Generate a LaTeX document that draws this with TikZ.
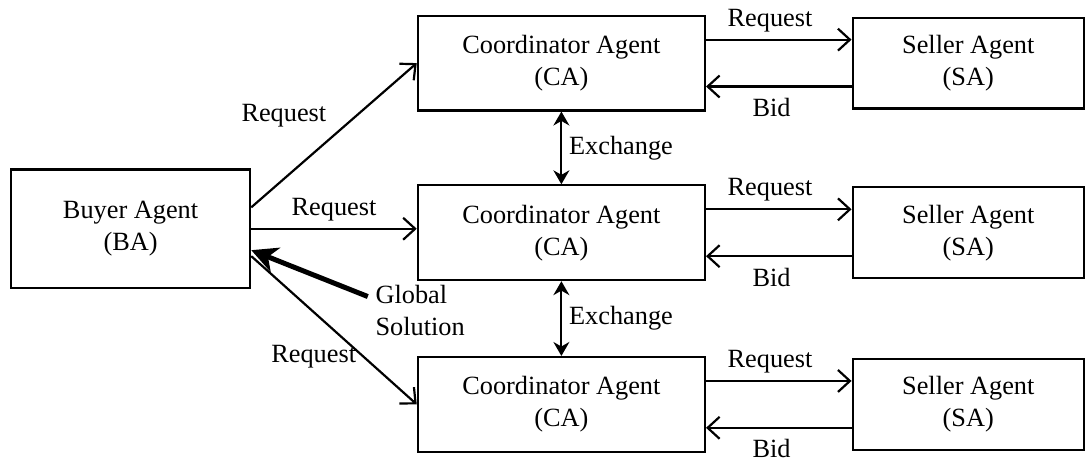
\documentclass[tikz,border=0pt]{standalone}
\usepackage{fontspec}
\setmainfont{Liberation Serif}
\usetikzlibrary{arrows.meta,positioning}

\begin{document}
\begin{tikzpicture}[>={Straight Barb[length=6pt,width=11pt]},line width=1.1pt,
    font=\fontsize{13.2}{16}\selectfont,
    agent/.style={draw,align=center,inner sep=0pt},
    buyer/.style={agent,minimum width=120pt,minimum height=59.5pt},
    coord/.style={agent,minimum width=144pt,minimum height=47.5pt},
    seller/.style={agent,minimum width=116pt,minimum height=45.5pt},
    xchg/.style={{Stealth[length=7pt,width=8pt]}-{Stealth[length=7pt,width=8pt]}},
    solution/.style={line width=2.5pt,-{Stealth[length=13pt,width=13pt,inset=4pt]}}]
  \node[buyer] (ba) {Buyer Agent\\(BA)};

  \node[coord] (ca2) [right=83pt of ba,yshift=-2pt] {Coordinator Agent\\(CA)};
  \node[coord] (ca1) [above=36.5pt of ca2] {Coordinator Agent\\(CA)};
  \node[coord] (ca3) [below=37.5pt of ca2] {Coordinator Agent\\(CA)};

  \node[seller] (sa1) [right=73pt of ca1] {Seller Agent\\(SA)};
  \node[seller] (sa2) [right=73pt of ca2] {Seller Agent\\(SA)};
  \node[seller] (sa3) [right=73pt of ca3] {Seller Agent\\(SA)};

  \node[anchor=west,align=left] (gs) at ([shift={(119pt,-41pt)}]ba.center) {Global\\Solution};

  \useasboundingbox ([shift={(-65.5pt,-120.75pt)}]ba.center) rectangle +(542.5pt,235.5pt);

  \path[->]
    ([yshift=10.75pt]ba.east)
      edge node[above left]{Request} (ca1.west)
    (ba.east)
      edge node[above]{Request} (ba.east -| ca2.west)
    ([yshift=-13.75pt]ba.east)
      edge node[left,pos=0.68]{Request} (ca3.west)

    (ca1.south)
      edge[xchg] node[right]{Exchange} (ca2.north)
    (ca2.south)
      edge[xchg] node[right]{Exchange} (ca3.north)

    ([yshift=11.75pt]ca1.east)
      edge node[above,pos=0.44]{Request} ([yshift=11.75pt]ca1.east -| sa1.west)
    ([yshift=-11.75pt]sa1.west)
      edge node[below=2pt,pos=0.55]{Bid} ([yshift=-11.75pt]sa1.west -| ca1.east)
    ([yshift=11.75pt]ca2.east)
      edge node[above,pos=0.44]{Request} ([yshift=11.75pt]ca2.east -| sa2.west)
    ([yshift=-11.75pt]sa2.west)
      edge node[below=2pt,pos=0.55]{Bid} ([yshift=-11.75pt]sa2.west -| ca2.east)
    ([yshift=11.75pt]ca3.east)
      edge node[above,pos=0.44]{Request} ([yshift=11.75pt]ca3.east -| sa3.west)
    ([yshift=-11.75pt]sa3.west)
      edge node[below=2pt,pos=0.55]{Bid} ([yshift=-11.75pt]sa3.west -| ca3.east)
  ;

  \draw[solution] ([yshift=7pt]gs.west) -- ([yshift=-10.75pt]ba.east);
\end{tikzpicture}
\end{document}
